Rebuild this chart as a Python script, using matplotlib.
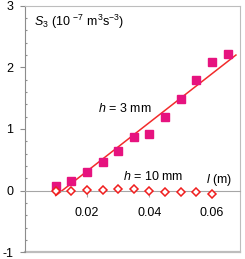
import matplotlib
matplotlib.use("Agg")
import matplotlib.pyplot as plt
import numpy as np
from matplotlib.ticker import MultipleLocator, FixedLocator

plt.rcParams["font.family"] = ["Liberation Sans", "DejaVu Sans"]
plt.rcParams["mathtext.fontset"] = "custom"
plt.rcParams["mathtext.rm"] = "Liberation Sans"
plt.rcParams["mathtext.it"] = "Liberation Sans:italic"

# h = 3 mm (filled squares)
l_3mm = [0.010, 0.015, 0.020, 0.025, 0.030, 0.035, 0.040, 0.045, 0.050, 0.055, 0.060, 0.065]
s3_3mm = [0.07, 0.16, 0.30, 0.46, 0.65, 0.87, 0.92, 1.20, 1.49, 1.79, 2.09, 2.21]

# linear fit drawn through the h = 3 mm points
fit_l = [0.0100, 0.0677]
fit_s3 = [-0.08, 2.20]

# h = 10 mm (open diamonds)
l_10mm = [0.010, 0.015, 0.020, 0.025, 0.030, 0.035, 0.040, 0.045, 0.050, 0.055, 0.060]
s3_10mm = [0.00, 0.00, 0.01, 0.01, 0.02, 0.02, 0.00, -0.02, -0.03, -0.03, -0.06]

xticks = [0.02, 0.04, 0.06]
yticks = [-1, 0, 1, 2, 3]

fig = plt.figure(figsize=(2.45, 2.59), dpi=100)
ax = fig.add_axes([24.5 / 245, 6.7 / 259, (240 - 24.5) / 245, (252.3 - 5.7) / 259])

ax.plot(fit_l, fit_s3, color="#F22B2B", linewidth=1.1, zorder=2)
ax.plot(l_3mm, s3_3mm, linestyle="none", marker="s", markersize=6.2,
        color="#E6137F", zorder=3)
ax.plot(l_10mm, s3_10mm, linestyle="none", marker="D", markersize=4.4,
        markerfacecolor="white", markeredgecolor="#F01E1E", markeredgewidth=1.1, zorder=4)

ax.set_xlim(0, 0.0690)
ax.set_ylim(-1, 3)

# frame
for side in ("top", "right"):
    ax.spines[side].set_color("#BDBDBD")
ax.spines["left"].set_color("#8C8C8C")
ax.spines["bottom"].set_position(("data", 0))
ax.spines["bottom"].set_color("#A6A6A6")
ax.axhline(-1, color="#BDBDBD", linewidth=1.6, clip_on=False, zorder=1)

ax.yaxis.set_major_locator(FixedLocator(yticks))
ax.yaxis.set_minor_locator(MultipleLocator(0.2))
ax.set_yticklabels([str(v) for v in yticks])
ax.tick_params(axis="y", which="major", direction="out", length=3.5, width=0.8,
               color="#8C8C8C", pad=4.5, labelsize=9)
ax.tick_params(axis="y", which="minor", direction="in", length=1.6, width=0.8, color="#8C8C8C")

ax.xaxis.set_major_locator(FixedLocator(xticks))
ax.set_xticklabels(["0.02", "0.04", "0.06"])
ax.tick_params(axis="x", which="major", direction="out", length=4.5, width=0.8,
               color="#A6A6A6", pad=7, labelsize=9)

ax.text(0.0031, 2.73, r"$S_3$ (10 $^{-7}$ m$^3$s$^{-3}$)", fontsize=9, va="center", ha="left")
ax.text(0.0235, 1.34, r"$h$ = 3 mm", fontsize=9, va="center", ha="left")
ax.text(0.0314, 0.227, r"$h$ = 10 mm", fontsize=9, va="center", ha="left")
ax.text(0.0581, 0.17, r"$l$ (m)", fontsize=9, va="center", ha="left")

fig.savefig("out.png", dpi=100)
